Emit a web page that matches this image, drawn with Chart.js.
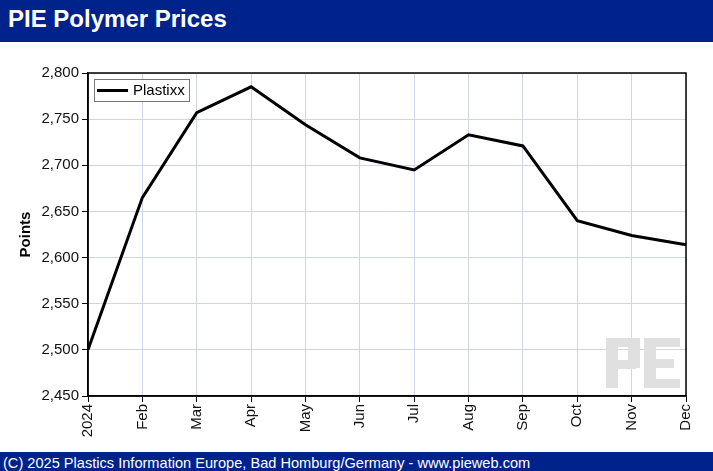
<!DOCTYPE html>
<html>
<head>
<meta charset="utf-8">
<script src="https://cdn.jsdelivr.net/npm/chart.js@4.4.1/dist/chart.umd.min.js"></script>
<style>
    html, body { margin: 0; padding: 0; background: #fff; overflow: hidden; }
    body { width: 713px; height: 471px; font-family: "Liberation Sans", Arial, sans-serif; }
    #header { height: 42px; background: #00228b; color: #fff; font-weight: bold; font-size: 24px; line-height: 38px; padding-left: 8px; box-sizing: border-box; }
    #wrap { position: relative; width: 713px; height: 410px; }
    #footer { height: 19px; background: #00228b; color: #fff; font-size: 14.6px; line-height: 22px; padding-left: 3px; box-sizing: border-box; white-space: nowrap; }
</style>
</head>
<body>
<div id="header">PIE Polymer Prices</div>
<div id="wrap"><canvas id="priceChart" width="713" height="410"></canvas></div>
<div id="footer">(C) 2025 Plastics Information Europe, Bad Homburg/Germany - www.pieweb.com</div>
<script>
const months = ['2024', 'Feb', 'Mar', 'Apr', 'May', 'Jun', 'Jul', 'Aug', 'Sep', 'Oct', 'Nov', 'Dec'];
const plastixx = [2500, 2665, 2757, 2785, 2744, 2708, 2695, 2733, 2721, 2640, 2624, 2614];
const yMin = 2450;
const yMax = 2800;
const yStep = 50;

const frame = {
    id: 'frame',
    beforeDatasetsDraw(chart) {
        // watermark logo behind the line
        const a = chart.chartArea;
        const c = chart.ctx;
        c.save();
        c.fillStyle = '#e0e0e0';
        const x0 = a.right - 80, y0 = a.bottom - 58;
        // P
        c.fillRect(x0, y0, 12, 50);
        c.fillRect(x0, y0, 30, 9);
        c.fillRect(x0 + 22, y0, 12, 30);
        c.fillRect(x0, y0 + 22, 30, 9);
        // E
        c.fillRect(x0 + 38, y0, 36, 9);
        c.fillRect(x0 + 38, y0 + 21, 30, 9);
        c.fillRect(x0 + 38, y0 + 41, 36, 9);
        c.fillRect(x0 + 38, y0, 12, 50);
        c.restore();
    },
    afterDraw(chart) {
        const a = chart.chartArea;
        const c = chart.ctx;
        c.save();
        c.strokeStyle = '#000';
        c.lineWidth = 1.5;
        c.strokeRect(a.left, a.top, a.right - a.left, a.bottom - a.top);

        // legend box inside the plot
        const ds = chart.data.datasets[0];
        const bx = a.left + 6, by = a.top + 6;
        c.fillStyle = '#fff';
        c.fillRect(bx, by, 95, 22);
        c.lineWidth = 1;
        c.strokeStyle = '#777';
        c.strokeRect(bx + 0.5, by + 0.5, 95, 22);
        c.strokeStyle = ds.borderColor;
        c.lineWidth = 3;
        c.beginPath();
        c.moveTo(bx + 3, by + 11.5);
        c.lineTo(bx + 34, by + 11.5);
        c.stroke();
        c.fillStyle = '#000';
        c.font = '15px "Liberation Sans", Arial, sans-serif';
        c.textBaseline = 'middle';
        c.fillText(ds.label, bx + 39, by + 12);
        c.restore();
    }
};

new Chart(document.getElementById('priceChart'), {
    type: 'line',
    data: {
        labels: months,
        datasets: [{
            label: 'Plastixx',
            data: plastixx,
            borderColor: '#000',
            borderWidth: 3,
            pointRadius: 0,
            tension: 0,
            fill: false
        }]
    },
    options: {
        responsive: false,
        animation: false,
        layout: { padding: { top: 31, right: 27, left: 17, bottom: 0 } },
        plugins: {
            legend: { display: false },
            tooltip: { enabled: false }
        },
        scales: {
            x: {
                offset: false,
                grid: { color: '#d0d4e6', lineWidth: 1, tickLength: 6, tickColor: '#000' },
                border: { color: '#000', width: 1.5 },
                ticks: {
                    color: '#111',
                    font: { family: '"Liberation Sans", Arial, sans-serif', size: 15 },
                    minRotation: 90,
                    maxRotation: 90,
                    autoSkip: false,
                    padding: 2
                },
                afterFit(scale) { scale.height = 56; }
            },
            y: {
                min: yMin,
                max: yMax,
                grid: { color: '#d0d4e6', lineWidth: 1, tickLength: 6, tickColor: '#000' },
                border: { color: '#000', width: 1.5 },
                ticks: {
                    stepSize: yStep,
                    color: '#111',
                    padding: 3,
                    font: { family: '"Liberation Sans", Arial, sans-serif', size: 15 },
                    callback: v => v.toLocaleString('en-US')
                },
                title: {
                    display: true,
                    text: 'Points',
                    color: '#000',
                    padding: { top: 0, bottom: 0 },
                    font: { family: '"Liberation Sans", Arial, sans-serif', size: 15, weight: 'bold' }
                },
                afterFit(scale) { scale.width = 71; }
            }
        }
    },
    plugins: [frame]
});
</script>
</body>
</html>
